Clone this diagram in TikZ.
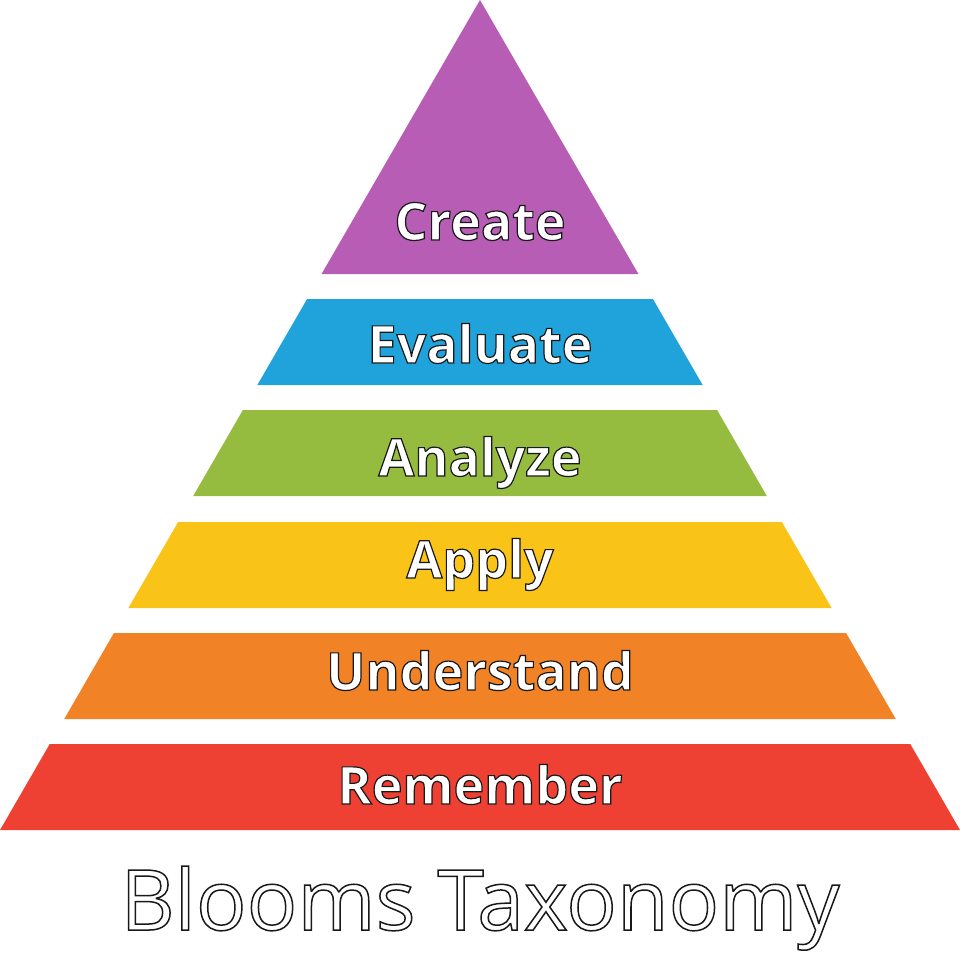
\documentclass[tikz,border=0pt]{standalone}
\usepackage{fontspec}
\setmainfont{Open Sans}
\newcommand\outl[2]{\special{pdf:literal direct 0.1 0.1 0.1 RG #1 w 2 Tr}#2\special{pdf:literal direct 0 Tr}}
\definecolor{cC}{HTML}{B75DB5}
\definecolor{cE}{HTML}{1FA3DA}
\definecolor{cAn}{HTML}{95BC3F}
\definecolor{cAp}{HTML}{F9C318}
\definecolor{cU}{HTML}{F28226}
\definecolor{cR}{HTML}{EE4134}
\tikzset{lab/.style={anchor=base,text=white,font=\bfseries\fontsize{52}{52}\selectfont,inner sep=0}}
\begin{document}
\begin{tikzpicture}[x=1pt,y=-1pt]
\useasboundingbox (0,0) rectangle (960,954);
\def\band#1#2#3#4{\fill[#1] ({480-0.5783*#2},#2) -- ({480+0.5783*#2},#2) -- ({480+0.5783*#3},#3) -- ({480-0.5783*#3},#3) -- cycle;}
\fill[cC] (480,0) -- ({480+0.5783*274},274) -- ({480-0.5783*274},274) -- cycle;
\band{cE}{299}{385}{}
\band{cAn}{410}{496}{}
\band{cAp}{522}{608}{}
\band{cU}{633}{719}{}
\band{cR}{744}{830}{}
\node[lab] (create) at (480,240) {\outl{1.2}{Create}};
\node[lab] (evaluate) at (480,363) {\outl{1.2}{Evaluate}};
\node[lab] (analyze) at (480,476) {\outl{1.2}{Analyze}};
\node[lab] (apply) at (480,578) {\outl{1.2}{Apply}};
\node[lab] (understand) at (480,690) {\outl{1.2}{Understand}};
\node[lab] (remember) at (480,804) {\outl{1.2}{Remember}};
\node[anchor=base,text=white,font=\fontsize{84}{84}\selectfont,inner sep=0] (title) at (480,930) {\outl{1.5}{Blooms Taxonomy}};
\end{tikzpicture}
\end{document}
